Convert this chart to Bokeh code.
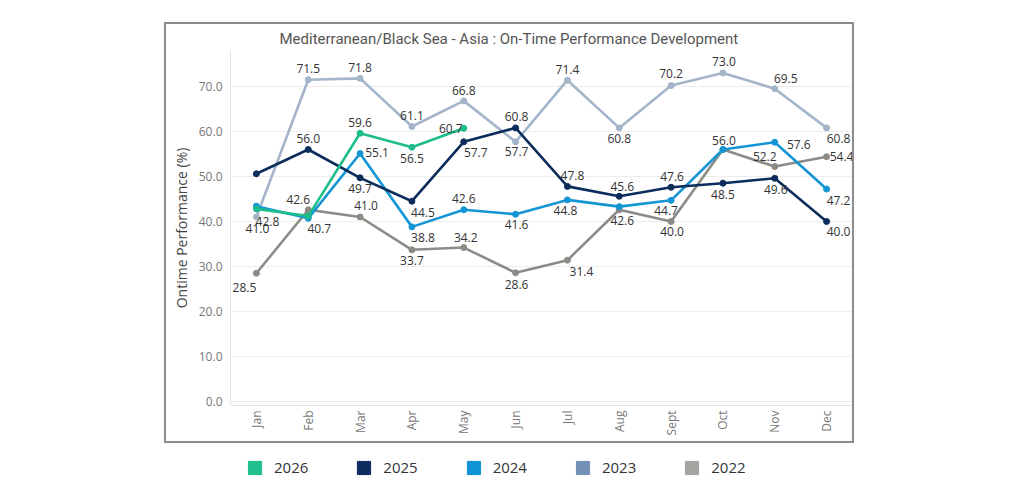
import numpy as np
from bokeh.plotting import figure
from bokeh.layouts import column, row
from bokeh.models import (ColumnDataSource, FactorRange, Range1d, Legend, LegendItem,
                          FixedTicker, Spacer, Title)
from bokeh.core.properties import value
from bokeh.embed import file_html
from bokeh.resources import INLINE

# ---------------- data ----------------
months = ["Jan", "Feb", "Mar", "Apr", "May", "Jun", "Jul", "Aug", "Sept", "Oct", "Nov", "Dec"]
years = ["2026", "2025", "2024", "2023", "2022"]
otp_2026 = [42.8, 41.2, 59.6, 56.5, 60.7]
otp_2025 = [50.6, 56.0, 49.7, 44.5, 57.7, 60.8, 47.8, 45.6, 47.6, 48.5, 49.6, 40.0]
otp_2024 = [43.4, 40.7, 55.1, 38.8, 42.6, 41.6, 44.8, 43.3, 44.7, 56.0, 57.6, 47.2]
otp_2023 = [41.0, 71.5, 71.8, 61.1, 66.8, 57.7, 71.4, 60.8, 70.2, 73.0, 69.5, 60.8]
otp_2022 = [28.5, 42.6, 41.0, 33.7, 34.2, 28.6, 31.4, 42.6, 40.0, 56.0, 52.2, 54.4]
y_ticks = [0, 10, 20, 30, 40, 50, 60, 70]

title_text = "Mediterranean/Black Sea - Asia : On-Time Performance Development"
y_label = "Ontime Performance (%)"

# ---------------- styles / layout ----------------
line_colors = {"2026": "#1dbd8b", "2025": "#0c2c5c", "2024": "#1596d4",
               "2023": "#a4b5ca", "2022": "#8c8b86"}
legend_colors = {"2026": "#1fbf8e", "2025": "#0b2c5e", "2024": "#0d93d6",
                 "2023": "#7490b4", "2022": "#a4a39f"}
BORDER = "#8c8c8c"
# label offsets (dx, dy) in screen pixels, dy positive = downward; None = no label
label_offsets = {
    "2026": [(11, 13), None, (0, -11), (0, 11), (-13, 0)],
    "2025": [None, (0, -11), (0, 11), (11, 11), (12, 11), (1, -11), (5, -11), (3, -10),
             (1, -11), (0, 11), (1, 11), (12, 10)],
    "2024": [None, (11, 10), (17, -1), (11, 11), (0, -11), (1, 10), (-2, 11), None,
             (-5, 10), (1, -9), (24, 2), (12, 11)],
    "2023": [(1, 12), (0, -11), (0, -11), (0, -11), (0, -10), (1, 10), (0, -11), (0, 11),
             (0, -12), (1, -11), (11, -10), (12, 11)],
    "2022": [(-12, 14), (-10, -10), (6, -11), (0, 11), (2, -10), (1, 12), (14, 11), (3, 11),
             (1, 10), None, (-10, -10), (15, 0)],
}
series = {"2026": otp_2026, "2025": otp_2025, "2024": otp_2024,
          "2023": otp_2023, "2022": otp_2022}

# page geometry
BOX_L, BOX_T, BOX_R, BOX_B, BW = 164, 22, 854, 443, 2
IN_L, IN_T, IN_R, IN_B = BOX_L + BW, BOX_T + BW, BOX_R - BW, BOX_B - BW
FL, FR, FT, FB = 230, 852, 50, 405   # frame edges in page pixels

p = figure(width=IN_R - IN_L, height=IN_B - IN_T,
           x_range=FactorRange(*months, range_padding=0),
           y_range=Range1d(-0.9, 78.0), output_backend="svg", toolbar_location=None,
           min_border_left=FL - IN_L, min_border_right=IN_R - FR,
           min_border_top=FT - IN_T, min_border_bottom=IN_B - FB)
p.x_range.factor_padding = 0
p.outline_line_color = None
p.background_fill_color = "white"
p.border_fill_color = "white"

t = Title(text=title_text, align="left", offset=279 - FL,
          text_font="Roboto", text_font_size="15px", text_font_style="normal",
          text_color="#555555", standoff=5)
p.add_layout(t, "above")

# axes
p.yaxis.ticker = FixedTicker(ticks=y_ticks)
p.yaxis.major_label_overrides = {t_: f"{t_:.1f}" for t_ in y_ticks}
p.yaxis.axis_label = y_label
p.yaxis.axis_label_text_font = "Open Sans"
p.yaxis.axis_label_text_font_style = "normal"
p.yaxis.axis_label_text_font_size = "14px"
p.yaxis.axis_label_text_color = "#444444"
p.yaxis.axis_label_standoff = 5
p.yaxis.major_label_text_font = "Open Sans"
p.yaxis.major_label_text_font_size = "12px"
p.yaxis.major_label_text_color = "#777777"
p.yaxis.major_label_standoff = 8
p.yaxis.major_tick_line_color = None
p.yaxis.major_tick_out = 0
p.yaxis.major_tick_in = 0
p.yaxis.minor_tick_line_color = None
p.yaxis.minor_tick_out = 0
p.yaxis.axis_line_color = "#e4e4e4"

p.xaxis.major_label_orientation = np.pi / 2
p.xaxis.major_label_text_font = "Open Sans"
p.xaxis.major_label_text_font_size = "12px"
p.xaxis.major_label_text_color = "#777777"
p.xaxis.major_label_standoff = 5
p.xaxis.major_tick_line_color = None
p.xaxis.major_tick_out = 0
p.xaxis.major_tick_in = 0
p.xaxis.axis_line_color = "#e4e4e4"

p.xgrid.grid_line_color = None
p.ygrid.ticker = FixedTicker(ticks=y_ticks)
p.ygrid.grid_line_color = "#ededed"

# lines, markers
for yr in ["2022", "2023", "2024", "2025", "2026"]:
    vals = series[yr]
    src = ColumnDataSource(dict(x=months[:len(vals)], y=vals))
    p.line("x", "y", source=src, line_color=line_colors[yr], line_width=2.6)
    p.scatter("x", "y", source=src, marker="circle", size=6,
              fill_color=line_colors[yr], line_color=line_colors[yr])

# data labels
lx, ly, lt, ldx, ldy = [], [], [], [], []
for yr in ["2022", "2023", "2024", "2025", "2026"]:
    for m, v, off in zip(months, series[yr], label_offsets[yr]):
        if off is None:
            continue
        lx.append(m); ly.append(v); lt.append(f"{v:.1f}")
        ldx.append(off[0]); ldy.append(off[1])
lsrc = ColumnDataSource(dict(x=lx, y=ly, t=lt, dx=ldx, dy=ldy))
p.text("x", "y", text="t", source=lsrc, x_offset="dx", y_offset="dy",
       text_align="center", text_baseline="middle", text_font=value("Open Sans"),
       text_font_size="12px", text_color="#333333")

# legend (separate strip below the bordered chart)
LEG_H = 50
lf = figure(width=1017, height=LEG_H, x_range=Range1d(0, 1), y_range=Range1d(0, 1),
            output_backend="svg", toolbar_location=None, min_border=0)
lf.axis.visible = False
lf.grid.grid_line_color = None
lf.outline_line_color = None
items = []
for yr in years:
    # marker sits outside the visible range; only its legend swatch shows
    r = lf.scatter(x=[5], y=[5], marker="square", size=13,
                   fill_color=legend_colors[yr], line_color=legend_colors[yr])
    items.append(LegendItem(label=yr, renderers=[r]))
legend_center_y = 467 - BOX_B
legend = Legend(items=items, orientation="horizontal",
                location=(238, LEG_H - legend_center_y - 16.5),
                glyph_width=33, glyph_height=33, label_standoff=3, spacing=39,
                padding=0, margin=0, border_line_alpha=0, background_fill_alpha=0,
                label_text_font="Open Sans", label_text_font_size="15px",
                label_text_color="#333333")
lf.add_layout(legend, "center")


def bar(w, h):
    return Spacer(width=w, height=h, styles={"background-color": BORDER})


boxed = column(bar(BOX_R - BOX_L, BW),
               row(bar(BW, IN_B - IN_T), p, bar(BW, IN_B - IN_T)),
               bar(BOX_R - BOX_L, BW))

layout = column(Spacer(width=1017, height=BOX_T),
                row(Spacer(width=BOX_L, height=BOX_B - BOX_T), boxed),
                lf)

open("out.html", "w").write(file_html(layout, INLINE))
